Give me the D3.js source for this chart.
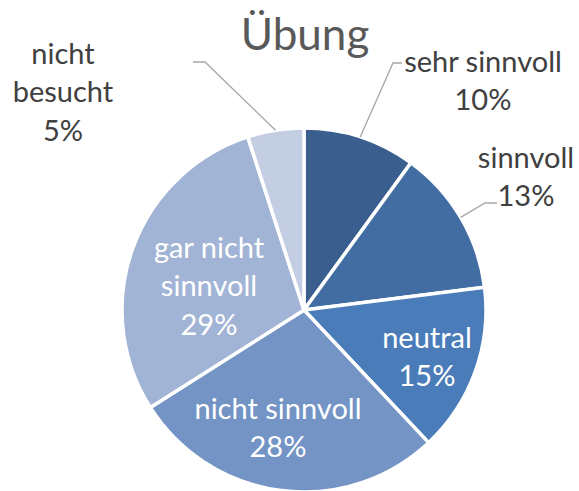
<!DOCTYPE html>
<html>
<head>
<meta charset="utf-8">
<script src="https://cdn.jsdelivr.net/npm/d3@7"></script>
<style>
  body { margin: 0; background: #fff; }
  text { font-family: Lato, "Open Sans", sans-serif; }
</style>
</head>
<body>
<div class="chart"></div>
<script>
// data
const categories = ["sehr sinnvoll", "sinnvoll", "neutral", "nicht sinnvoll", "gar nicht sinnvoll", "nicht besucht"];
const values = [10, 13, 15, 28, 29, 5];
const labelLines = [["sehr sinnvoll"], ["sinnvoll"], ["neutral"], ["nicht sinnvoll"], ["gar nicht", "sinnvoll"], ["nicht", "besucht"]];
const colors = ["#3a5e8e", "#416da3", "#4a7cb9", "#7394c5", "#a2b4d5", "#c3cee3"];
const title = "Übung";

const svgWidth = 579;
const svgHeight = 491;
const cx = 304, cy = 310, radius = 182;
const lineGap = 38.5;

// label layout: block centre, text colour, and leader elbow (null = inside)
const labelLayout = [
  { x: 483, y: 81, fill: "#404040", elbow: [393, 63], end: [402, 63] },
  { x: 526, y: 177, fill: "#404040", elbow: [485, 203], end: [497, 203] },
  { x: 427, y: 357, fill: "#fff", elbow: null },
  { x: 278, y: 428, fill: "#fff", elbow: null },
  { x: 209, y: 286, fill: "#fff", elbow: null },
  { x: 63, y: 92, fill: "#404040", elbow: [205, 62], end: [193, 62] }
];

const svg = d3.select(".chart")
  .append("svg")
  .attr("width", svgWidth)
  .attr("height", svgHeight);

svg.append("text")
  .attr("x", 305)
  .attr("y", 50)
  .attr("text-anchor", "middle")
  .attr("font-size", 44)
  .attr("fill", "#595959")
  .text(title);

const pie = d3.pie().sort(null).value(d => d);
const arcs = pie(values);
const arc = d3.arc().innerRadius(0).outerRadius(radius);
const edgeArc = d3.arc().innerRadius(radius).outerRadius(radius);

const g = svg.append("g")
  .attr("transform", "translate(" + cx + "," + cy + ")");

g.selectAll("path.slice")
  .data(arcs)
  .join("path")
  .attr("class", "slice")
  .attr("d", arc)
  .attr("fill", (d, i) => colors[i])
  .attr("stroke", "#fff")
  .attr("stroke-width", 3.5)
  .attr("stroke-linejoin", "round");

// leader lines
arcs.forEach((d, i) => {
  const L = labelLayout[i];
  if (!L.elbow) return;
  const p = edgeArc.centroid(d);
  svg.append("polyline")
    .attr("points", [[p[0] + cx, p[1] + cy], L.elbow, L.end].map(q => q.join(",")).join(" "))
    .attr("fill", "none")
    .attr("stroke", "#a6a6a6")
    .attr("stroke-width", 1.3);
});

// labels
arcs.forEach((d, i) => {
  const L = labelLayout[i];
  const lines = labelLines[i].concat([values[i] + "%"]);
  const t = svg.append("text")
    .attr("text-anchor", "middle")
    .attr("font-size", 29)
    .attr("fill", L.fill);
  const first = L.y - (lines.length - 1) / 2 * lineGap + 10;
  lines.forEach((s, j) => {
    t.append("tspan")
      .attr("x", L.x)
      .attr("y", first + j * lineGap)
      .text(s);
  });
});
</script>
</body>
</html>
